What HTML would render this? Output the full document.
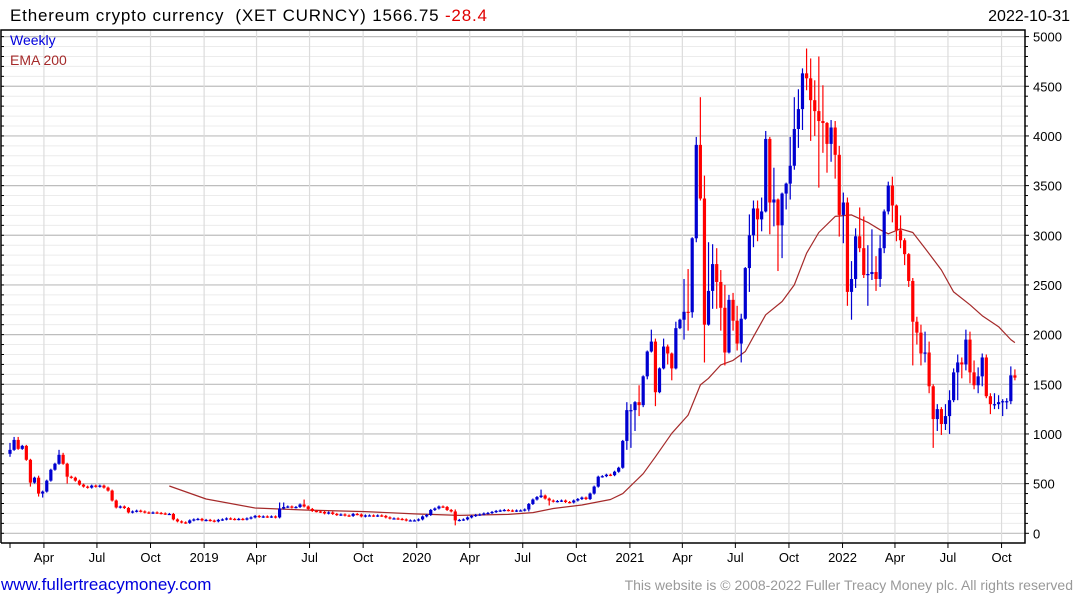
<!DOCTYPE html>
<html><head><meta charset="utf-8"><style>
html,body{margin:0;padding:0;background:#fff;width:1075px;height:600px;overflow:hidden}
svg{display:block}
text{font-family:"Liberation Sans","DejaVu Sans",sans-serif}
</style></head><body>
<svg id="chart" width="1075" height="600" xmlns="http://www.w3.org/2000/svg">
<rect x="0" y="0" width="1075" height="600" fill="#fff"/>
<g id="grid"></g>
<g id="ema"></g>
<g id="candles"></g>
<g id="axes"></g>
<text x="10" y="21" font-size="17" fill="#000" textLength="477" lengthAdjust="spacing">Ethereum crypto currency&#160; (XET CURNCY) 1566.75 <tspan fill="#e00000">-28.4</tspan></text>
<text x="1070" y="21" font-size="16" fill="#000" text-anchor="end">2022-10-31</text>
<text x="10" y="45" font-size="14" fill="#0000dd">Weekly</text>
<text x="10" y="65" font-size="14" fill="#a52a2a">EMA 200</text>
<text x="1" y="590" font-size="17" fill="#0000dd">www.fullertreacymoney.com</text>
<text x="1073" y="590" font-size="14" fill="#999" text-anchor="end">This website is © 2008-2022 Fuller Treacy Money plc. All rights reserved</text>
</svg>
<script>
const closes = [840,940,850,880,740,510,560,400,420,530,
640,700,790,700,570,560,530,490,470,460,
480,470,480,460,430,330,260,270,255,210,
220,228,220,210,205,210,205,200,195,195,
140,120,110,105,130,140,145,130,135,128,
120,135,140,150,145,140,145,140,150,160,
175,165,170,165,170,160,250,265,270,260,
265,290,270,245,225,220,215,200,210,195,
185,190,180,175,195,190,170,180,180,175,
180,175,160,150,150,145,140,130,130,130,
140,170,185,235,250,270,265,235,220,130,
135,140,160,175,185,190,200,205,215,225,
230,235,230,225,230,230,240,295,340,365,
380,350,330,320,325,330,315,310,330,345,
360,345,400,470,
570,575,590,585,620,660,930,1240,1240,1320,
1290,1580,1830,1930,1420,1660,1880,1810,1660,2065,
2150,2230,2225,2970,3910,3370,2100,2440,2710,2530,
2270,1820,2350,2140,1910,2160,2670,3000,3270,3160,
3240,3970,3330,3360,3100,3420,3520,3700,4070,4270,
4630,4580,4360,4250,4150,4130,3920,4085,3810,3205,
3330,2430,2560,2990,2870,2600,2610,2630,2560,2870,
3240,3500,3300,3050,2950,2810,2540,2130,2020,1810,
1820,1480,1150,1250,1100,1180,1340,1620,1720,1700,
1950,1620,1490,1580,1770,1380,1300,1300,1320,1330,
1330,1590,1567];
const firstOpen = 800;
const highIdx = [0,1,2,7,12,13,66,67,72,109,130,151,152,154,156,157,158,160,161,163,165,166,168,169,170,171,172,173,174,175,176,177,178,179,181,182,183,184,185,186,187,190,191,192,193,194,195,196,197,198,199,200,201,202,203,204,205,206,207,208,209,210,211,212,213,214,215,216,217,218,219,220,221,222,223,224,225,226,227,228,229,230,231,232,233,234,235,236,237,238,239,240,241,242,243,244,245,246];
const highVals = [900,960,960,570,830,800,300,300,330,230,430,1310,1290,1480,1770,2040,1950,1950,1890,2120,2550,2650,3980,4380,3590,2920,2900,2860,2640,2490,2390,2410,2280,2200,3200,3340,3340,3370,4040,3980,3670,3500,3980,4380,4460,4670,4870,4770,4550,4790,4500,4080,4150,4140,3890,3420,3370,2730,3060,3270,3180,2890,3050,2780,2990,3250,3530,3580,3190,3190,2960,2580,2560,2170,2090,2020,1920,1490,1290,1260,1290,1430,1650,1790,1760,2040,2020,1730,1660,1800,1790,1400,1400,1380,1340,1350,1670,1640];
const lowIdx = [0,5,7,8,14,109,127,132,151,152,153,154,155,156,158,159,161,162,165,166,167,168,169,170,171,172,173,174,175,176,177,178,179,180,181,182,183,184,185,186,187,188,189,190,191,192,193,194,195,196,197,198,199,200,201,202,203,204,205,206,207,208,209,210,211,212,213,214,215,216,217,218,219,220,221,222,223,224,225,226,227,228,229,230,231,232,233,234,235,236,237,238,239,240,241,242,243,244,245,246];
const lowVals = [780,480,380,370,510,90,230,290,850,870,1040,1190,1280,1560,1290,1430,1710,1550,1960,2050,2180,2940,3360,1730,2100,2270,2270,2050,1700,1820,2050,1850,1730,2170,2440,2890,2950,3050,3240,3020,3100,2650,2780,3270,3370,3670,3890,4070,4470,3960,4010,3490,3840,3640,3750,3580,2997,2930,2300,2160,2480,2840,2580,2300,2560,2450,2490,2830,3220,3140,2950,2880,2710,2490,1700,1910,1700,1730,1420,870,1040,1000,1050,1010,1330,1350,1570,1650,1520,1460,1420,1490,1370,1210,1260,1260,1190,1260,1310,1550];
const emaWeeks = [39,48,60,72,87,99,110,122,128,133,140,147,150,155,158,162,166,169,171,174,177,180,182,185,189,192,195,198,202,206,210,213,215,218,221,224,228,231,235,238,242,245,246];
const emaVals = [476,345,255,235,218,195,180,190,208,250,285,340,400,600,770,1007,1190,1494,1560,1695,1740,1830,1980,2200,2333,2500,2820,3028,3190,3205,3130,3055,3015,3065,3028,2870,2650,2430,2300,2190,2080,1950,1920];
const yTicks = [0,500,1000,1500,2000,2500,3000,3500,4000,4500,5000];
const xLabels = ["Apr","Jul","Oct","2019","Apr","Jul","Oct","2020","Apr","Jul","Oct","2021","Apr","Jul","Oct","2022","Apr","Jul","Oct"];
const xLabelDays = [90,181,273,365,455,546,638,730,821,912,1004,1096,1186,1277,1369,1461,1551,1642,1734];

const NS = "http://www.w3.org/2000/svg";
const L = 1, R = 1025, T = 30, B = 543;
function y(v){ return 533.3 - v * 0.09934; }
function xw(i){ return 10 + i * 4.085; }
function xd(d){ return -8.5 + d * 0.5825; }
function mk(parent, tag, attrs){
  const e = document.createElementNS(NS, tag);
  for (const k in attrs) e.setAttribute(k, attrs[k]);
  parent.appendChild(e);
  return e;
}
const grid = document.getElementById('grid');
const axes = document.getElementById('axes');
for (let v = 0; v <= 5000; v += 100) {
  const major = v % 500 === 0;
  const ln = mk(grid, 'line', {x1:L, x2:R, y1:y(v), y2:y(v), stroke: major ? '#bdbdbd' : '#ececec', 'stroke-width': major ? 1.2 : 1});
  
  
}
xLabelDays.forEach((d, k) => {
  const x = xd(d);
  const g = mk(grid, 'line', {x1:x, x2:x, y1:T, y2:B, stroke:'#dcdcdc', 'stroke-width':1.2});
  
  
  const t = mk(axes, 'line', {x1:x, x2:x, y1:B, y2:B+5, stroke:'#000'});
  
  
  const lb = mk(axes, 'text', {x:x, y:562, 'font-size':13, 'text-anchor':'middle', fill:'#000'});
  lb.textContent = xLabels[k];
  
  
});
const ft = mk(axes, 'line', {x1:10, x2:10, y1:B, y2:B+5, stroke:'#000'});


const fr = mk(axes, 'polyline', {points:`${L},${B} ${L},${T} ${R},${T} ${R},${B} ${L},${B}`, fill:'none', stroke:'#000', 'stroke-width':1.5});


for (let v = 0; v <= 5000; v += 100) {
  const len = v % 500 === 0 ? 4 : 3;
  const tk = mk(axes, 'line', {x1:R, x2:R+len, y1:y(v), y2:y(v), stroke:'#000'});
  
  
  const tl = mk(axes, 'line', {x1:L, x2:L+3, y1:y(v), y2:y(v), stroke:'#000'});
  
  
}
yTicks.forEach(v => {
  const t = mk(axes, 'text', {x:1033, y:y(v)+5, 'font-size':13, fill:'#000'});
  t.textContent = v;
  
  
});
const ema = document.getElementById('ema');
const ep = mk(ema, 'polyline', {points: emaWeeks.map((w, k) => xw(w).toFixed(1) + ',' + y(emaVals[k]).toFixed(1)).join(' '), fill:'none', stroke:'#a52a2a', 'stroke-width':1.2, 'stroke-linejoin':'round'});


const cg = document.getElementById('candles');
closes.forEach((c, i) => {
  const o = i === 0 ? firstOpen : closes[i-1];
  const up = c >= o;
  const col = up ? '#0000d0' : '#ff0000';
  const hk = highIdx.indexOf(i), lk = lowIdx.indexOf(i);
  const hi = hk >= 0 ? Math.max(highVals[hk], o, c) : Math.max(o, c);
  const lo = lk >= 0 ? Math.min(lowVals[lk], o, c) : Math.min(o, c);
  const x = xw(i);
  const wk = mk(cg, 'line', {x1:x, x2:x, y1:y(hi)-1, y2:y(lo)+1, stroke:col, 'stroke-width':1.2});
  
  
  const top = y(Math.max(o, c)), bot = y(Math.min(o, c));
  const bd = mk(cg, 'rect', {x:x-1.6, y:top, width:3.2, height:Math.max(1.2, bot-top), fill:col});
  
  
});
</script>
</body></html>
